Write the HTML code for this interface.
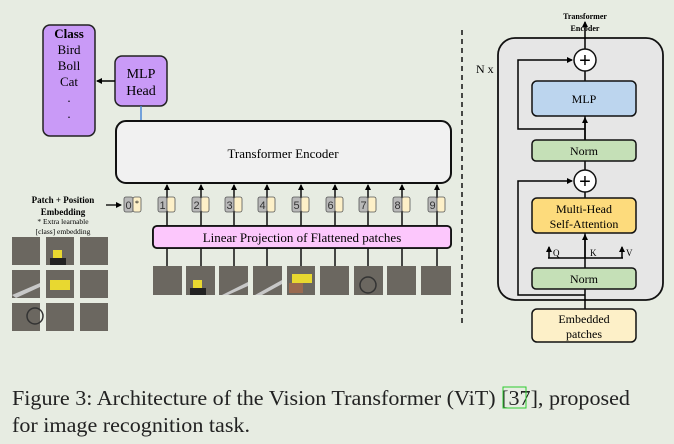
<!DOCTYPE html>
<html><head><meta charset="utf-8"><style>
html,body{margin:0;padding:0;background:#e7ece2;}
svg{display:block;font-family:"Liberation Serif",serif;}
</style></head><body>
<svg width="674" height="444" viewBox="0 0 674 444" xmlns="http://www.w3.org/2000/svg">
<defs>
<marker id="ar" markerWidth="6" markerHeight="6" refX="5" refY="3" orient="auto" markerUnits="userSpaceOnUse"><path d="M0,0 L6,3 L0,6 z" fill="#000"/></marker>
</defs>
<rect width="674" height="444" fill="#e7ece2"/>
<!-- Class box -->
<rect x="43" y="25" width="52" height="111" rx="7" fill="#c99af7" stroke="#222" stroke-width="1.5"/>
<text x="69" y="38" font-size="13" font-weight="bold" text-anchor="middle">Class</text>
<text x="69" y="54" font-size="13" text-anchor="middle">Bird</text>
<text x="69" y="70" font-size="13" text-anchor="middle">Boll</text>
<text x="69" y="86" font-size="13" text-anchor="middle">Cat</text>
<text x="69" y="102" font-size="13" text-anchor="middle">.</text>
<text x="69" y="118" font-size="13" text-anchor="middle">.</text>
<!-- MLP head -->
<rect x="115" y="56" width="52" height="50" rx="7" fill="#c99af7" stroke="#222" stroke-width="1.5"/>
<text x="141" y="78" font-size="14" text-anchor="middle">MLP</text>
<text x="141" y="95" font-size="14" text-anchor="middle">Head</text>
<line x1="115" y1="81" x2="97" y2="81" stroke="#000" stroke-width="1.5" marker-end="url(#ar)"/>
<line x1="141" y1="106" x2="141" y2="121" stroke="#4a88d8" stroke-width="1.5"/>
<!-- Transformer encoder -->
<rect x="116" y="121" width="335" height="62" rx="10" fill="#f1f1f1" stroke="#111" stroke-width="2"/>
<text x="283" y="158" font-size="13" text-anchor="middle">Transformer Encoder</text>
<!-- Linear projection -->
<rect x="153" y="226" width="298" height="22" rx="4" fill="#fcc7fc" stroke="#111" stroke-width="1.8"/>
<text x="302" y="242" font-size="13" text-anchor="middle">Linear Projection of Flattened patches</text>
<!-- Patch + Position label -->
<text x="63" y="203" font-size="9" font-weight="bold" text-anchor="middle">Patch + Position</text>
<text x="63" y="215" font-size="9" font-weight="bold" text-anchor="middle">Embedding</text>
<text x="63" y="224" font-size="7.5" text-anchor="middle">* Extra learnable</text>
<text x="63" y="234" font-size="7.5" text-anchor="middle">[class] embedding</text>
<line x1="106" y1="205" x2="121" y2="205" stroke="#000" stroke-width="1.3" marker-end="url(#ar)"/>
<!-- token 0 -->
<rect x="124" y="197" width="9" height="15" rx="2" fill="#b9b9b9" stroke="#555" stroke-width="0.8"/>
<text x="128.5" y="209" font-size="11" font-family="Liberation Sans,sans-serif" text-anchor="middle" fill="#333">0</text>
<rect x="133" y="197" width="8" height="15" rx="2" fill="#fdf0c8" stroke="#555" stroke-width="0.8"/>
<text x="137" y="206" font-size="8" text-anchor="middle">*</text>
<g id="toks" stroke="#000" stroke-width="1.4">
<line x1="167" y1="266" x2="167" y2="185" marker-end="url(#ar)"/>
<line x1="201" y1="266" x2="201" y2="185" marker-end="url(#ar)"/>
<line x1="234" y1="266" x2="234" y2="185" marker-end="url(#ar)"/>
<line x1="267" y1="266" x2="267" y2="185" marker-end="url(#ar)"/>
<line x1="301" y1="266" x2="301" y2="185" marker-end="url(#ar)"/>
<line x1="335" y1="266" x2="335" y2="185" marker-end="url(#ar)"/>
<line x1="368" y1="266" x2="368" y2="185" marker-end="url(#ar)"/>
<line x1="402" y1="266" x2="402" y2="185" marker-end="url(#ar)"/>
<line x1="437" y1="266" x2="437" y2="185" marker-end="url(#ar)"/>
</g>
<rect x="153" y="226" width="298" height="22" rx="4" fill="#fcc7fc" stroke="#111" stroke-width="1.8"/>
<text x="302" y="242" font-size="13" text-anchor="middle">Linear Projection of Flattened patches</text>
<g font-size="11" font-family="Liberation Sans,sans-serif" text-anchor="middle" fill="#333">
<g transform="translate(167,0)"><rect x="-9" y="197" width="9" height="15" rx="2" fill="#b9b9b9" stroke="#555" stroke-width="0.8"/><text x="-4.5" y="209">1</text><rect x="0" y="197" width="8" height="15" rx="2" fill="#fdf0c8" stroke="#555" stroke-width="0.8"/></g>
<g transform="translate(201,0)"><rect x="-9" y="197" width="9" height="15" rx="2" fill="#b9b9b9" stroke="#555" stroke-width="0.8"/><text x="-4.5" y="209">2</text><rect x="0" y="197" width="8" height="15" rx="2" fill="#fdf0c8" stroke="#555" stroke-width="0.8"/></g>
<g transform="translate(234,0)"><rect x="-9" y="197" width="9" height="15" rx="2" fill="#b9b9b9" stroke="#555" stroke-width="0.8"/><text x="-4.5" y="209">3</text><rect x="0" y="197" width="8" height="15" rx="2" fill="#fdf0c8" stroke="#555" stroke-width="0.8"/></g>
<g transform="translate(267,0)"><rect x="-9" y="197" width="9" height="15" rx="2" fill="#b9b9b9" stroke="#555" stroke-width="0.8"/><text x="-4.5" y="209">4</text><rect x="0" y="197" width="8" height="15" rx="2" fill="#fdf0c8" stroke="#555" stroke-width="0.8"/></g>
<g transform="translate(301,0)"><rect x="-9" y="197" width="9" height="15" rx="2" fill="#b9b9b9" stroke="#555" stroke-width="0.8"/><text x="-4.5" y="209">5</text><rect x="0" y="197" width="8" height="15" rx="2" fill="#fdf0c8" stroke="#555" stroke-width="0.8"/></g>
<g transform="translate(335,0)"><rect x="-9" y="197" width="9" height="15" rx="2" fill="#b9b9b9" stroke="#555" stroke-width="0.8"/><text x="-4.5" y="209">6</text><rect x="0" y="197" width="8" height="15" rx="2" fill="#fdf0c8" stroke="#555" stroke-width="0.8"/></g>
<g transform="translate(368,0)"><rect x="-9" y="197" width="9" height="15" rx="2" fill="#b9b9b9" stroke="#555" stroke-width="0.8"/><text x="-4.5" y="209">7</text><rect x="0" y="197" width="8" height="15" rx="2" fill="#fdf0c8" stroke="#555" stroke-width="0.8"/></g>
<g transform="translate(402,0)"><rect x="-9" y="197" width="9" height="15" rx="2" fill="#b9b9b9" stroke="#555" stroke-width="0.8"/><text x="-4.5" y="209">8</text><rect x="0" y="197" width="8" height="15" rx="2" fill="#fdf0c8" stroke="#555" stroke-width="0.8"/></g>
<g transform="translate(437,0)"><rect x="-9" y="197" width="9" height="15" rx="2" fill="#b9b9b9" stroke="#555" stroke-width="0.8"/><text x="-4.5" y="209">9</text><rect x="0" y="197" width="8" height="15" rx="2" fill="#fdf0c8" stroke="#555" stroke-width="0.8"/></g>
</g>
<!-- bottom patches -->
<g fill="#6b6760">
<rect x="153" y="266" width="29" height="29"/>
<rect x="186" y="266" width="29" height="29"/>
<rect x="219" y="266" width="29" height="29"/>
<rect x="253" y="266" width="29" height="29"/>
<rect x="287" y="266" width="28" height="29"/>
<rect x="320" y="266" width="29" height="29"/>
<rect x="354" y="266" width="29" height="29"/>
<rect x="387" y="266" width="29" height="29"/>
<rect x="421" y="266" width="30" height="29"/>
</g>
<rect x="193" y="280" width="9" height="8" fill="#e8d830"/><rect x="190" y="288" width="16" height="7" fill="#222"/>
<path d="M222,295 L248,282 L248,286 L228,295z" fill="#c8c8c8"/>
<path d="M255,295 L282,280 L282,284 L262,295z" fill="#c8c8c8"/>
<rect x="292" y="274" width="20" height="9" fill="#e8d830"/><rect x="289" y="283" width="14" height="10" fill="#9a6a50"/>
<circle cx="368" cy="285" r="8" fill="none" stroke="#333" stroke-width="1.5"/>
<!-- left grid -->
<g fill="#6b6760">
<rect x="12" y="237" width="28" height="28"/><rect x="46" y="237" width="28" height="28"/><rect x="80" y="237" width="28" height="28"/>
<rect x="12" y="270" width="28" height="28"/><rect x="46" y="270" width="28" height="28"/><rect x="80" y="270" width="28" height="28"/>
<rect x="12" y="303" width="28" height="28"/><rect x="46" y="303" width="28" height="28"/><rect x="80" y="303" width="28" height="28"/>
</g>
<rect x="53" y="250" width="9" height="8" fill="#e8d830"/><rect x="50" y="258" width="16" height="7" fill="#222"/>
<rect x="50" y="280" width="20" height="10" fill="#e8d830"/>
<path d="M12,295 L40,283 L40,287 L16,298z" fill="#c8c8c8"/>
<circle cx="35" cy="316" r="8" fill="none" stroke="#333" stroke-width="1.5"/>
<!-- dashed divider -->
<line x1="462" y1="30" x2="462" y2="323" stroke="#111" stroke-width="1.5" stroke-dasharray="5,4"/>
<!-- Right encoder -->
<text x="585" y="19" font-size="8" font-weight="bold" text-anchor="middle">Transformer</text>
<text x="585" y="31" font-size="8" font-weight="bold" text-anchor="middle">Encoder</text>
<rect x="498" y="38" width="165" height="262" rx="17" fill="#e6e6e6" stroke="#111" stroke-width="1.8"/>
<text x="476" y="73" font-size="12">N x</text>
<g stroke="#000" stroke-width="1.5" fill="none">
<line x1="585" y1="49" x2="585" y2="22" marker-end="url(#ar)"/>
<line x1="585" y1="309" x2="585" y2="191"/>
<polyline points="585,295 518,295 518,181 572,181" marker-end="url(#ar)"/>
<polyline points="585,129 518,129 518,60 572,60" marker-end="url(#ar)"/>
<line x1="585" y1="170" x2="585" y2="71"/>
<line x1="585" y1="258" x2="585" y2="235" marker-end="url(#ar)"/>
<polyline points="549,258 549,247" marker-end="url(#ar)"/>
<polyline points="622,258 622,247" marker-end="url(#ar)"/>
<line x1="548" y1="258" x2="623" y2="258"/>
<line x1="585" y1="140" x2="585" y2="118" marker-end="url(#ar)"/>
</g>
<circle cx="585" cy="60" r="11" fill="#fff" stroke="#111" stroke-width="1.5"/>
<text x="585" y="67" font-size="20" font-family="Liberation Sans,sans-serif" text-anchor="middle">+</text>
<circle cx="585" cy="181" r="11" fill="#fff" stroke="#111" stroke-width="1.5"/>
<text x="585" y="188" font-size="20" font-family="Liberation Sans,sans-serif" text-anchor="middle">+</text>
<rect x="532" y="81" width="104" height="35" rx="5" fill="#bcd5ee" stroke="#111" stroke-width="1.5"/>
<text x="584" y="103" font-size="12" text-anchor="middle">MLP</text>
<rect x="532" y="140" width="104" height="21" rx="4" fill="#c5e0b7" stroke="#111" stroke-width="1.5"/>
<text x="584" y="155" font-size="12" text-anchor="middle">Norm</text>
<rect x="532" y="198" width="104" height="35" rx="5" fill="#fddb7c" stroke="#111" stroke-width="1.5"/>
<text x="584" y="213" font-size="12" text-anchor="middle">Multi-Head</text>
<text x="584" y="228" font-size="12" text-anchor="middle">Self-Attention</text>
<text x="553" y="256" font-size="9">Q</text>
<text x="590" y="256" font-size="9">K</text>
<text x="626" y="256" font-size="9">V</text>
<rect x="532" y="268" width="104" height="21" rx="4" fill="#c5e0b7" stroke="#111" stroke-width="1.5"/>
<text x="584" y="283" font-size="12" text-anchor="middle">Norm</text>
<rect x="532" y="309" width="104" height="33" rx="5" fill="#fdf0c8" stroke="#111" stroke-width="1.5"/>
<text x="584" y="323" font-size="12" text-anchor="middle">Embedded</text>
<text x="584" y="338" font-size="12" text-anchor="middle">patches</text>
<!-- caption -->
<text x="12" y="405" font-size="21" fill="#222" textLength="618" lengthAdjust="spacingAndGlyphs">Figure 3: Architecture of the Vision Transformer (ViT) [37], proposed</text>
<rect x="503" y="387" width="23" height="21" fill="none" stroke="#2ecc2e" stroke-width="1"/>
<text x="12" y="432" font-size="21" fill="#222" textLength="238" lengthAdjust="spacingAndGlyphs">for image recognition task.</text>
</svg>
</body></html>
